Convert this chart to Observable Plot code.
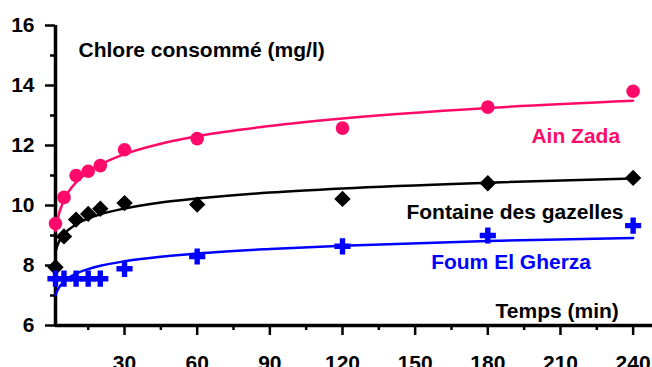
<!DOCTYPE html>
<html><head><meta charset="utf-8">
<script src="https://cdn.jsdelivr.net/npm/d3@7"></script>
<script src="https://cdn.jsdelivr.net/npm/@observablehq/plot@0.6"></script>
<style>
body{margin:0;background:#fff}
#chart svg{font-family:"Liberation Sans",Arial,sans-serif;font-weight:bold}
</style>
</head><body><div id="chart"></div>
<script>
// Measured points (time in min, chlorine consumed in mg/l)
const time      = [1.5, 5, 10, 15, 20, 30, 60, 120, 180, 240];
const ainZada   = [9.40, 10.27, 11.00, 11.14, 11.33, 11.86, 12.23, 12.58, 13.28, 13.81];
const fontaine  = [7.94, 8.97, 9.53, 9.72, 9.89, 10.08, 10.03, 10.22, 10.74, 10.92];
const foum      = [7.56, 7.56, 7.56, 7.56, 7.56, 7.89, 8.30, 8.64, 9.00, 9.33];

// Trend curves
const fitTime     = [1.5, 2, 3, 4, 5, 7, 10, 15, 20, 30, 45, 60, 90, 120, 180, 240];
const fitAinZada  = [9.14, 9.39, 9.74, 9.98, 10.18, 10.47, 10.77, 11.12, 11.36, 11.71, 12.06, 12.31, 12.65, 12.90, 13.25, 13.49];
const fitFontaine = [8.46, 8.60, 8.80, 8.93, 9.04, 9.20, 9.37, 9.57, 9.71, 9.90, 10.10, 10.23, 10.43, 10.57, 10.76, 10.90];
const fitFoum     = [7.01, 7.12, 7.27, 7.38, 7.46, 7.59, 7.73, 7.88, 7.99, 8.14, 8.29, 8.40, 8.55, 8.66, 8.82, 8.92];

const seriesNames = ["Ain Zada", "Fontaine des gazelles", "Foum El Gherza"];
const xTicks = [30, 60, 90, 120, 150, 180, 210, 240];
const xMinor = [15, 45, 75, 105, 135, 165, 195, 225];
const yTicks = [6, 8, 10, 12, 14, 16];
const yMinor = [7, 9, 11, 13, 15];
const yTitle = "Chlore consommé (mg/l)";
const xTitle = "Temps (min)";

const pink = "#ff0a6a", blue = "#0000ff", black = "#000000";

const pts = (ys) => time.map((t, i) => ({t, v: ys[i]}));
const fit = (ys) => fitTime.map((t, i) => ({t, v: ys[i]}));

const chart = Plot.plot({
  width: 652, height: 367,
  marginLeft: 55, marginRight: 0, marginTop: 25, marginBottom: 42,
  style: {background: "#fff", fontSize: "21px", fontWeight: "bold", fontFamily: "Liberation Sans, Arial, sans-serif"},
  x: {domain: [1.5, 248]},
  y: {domain: [6, 16]},
  marks: [
    Plot.axisX(xMinor, {tickSize: 5, strokeWidth: 2.5, tickFormat: () => "", label: null}),
    Plot.axisX(xTicks, {tickSize: 10, tickPadding: 20, strokeWidth: 2.5, fontSize: 21, label: null}),
    Plot.axisY(yMinor, {tickSize: 5, strokeWidth: 2.5, tickFormat: () => "", label: null}),
    Plot.axisY(yTicks, {tickSize: 10, tickPadding: 11, strokeWidth: 2.5, fontSize: 21, label: null}),
    Plot.ruleY([6], {strokeWidth: 3.5}),
    Plot.ruleX([1.5], {strokeWidth: 3.5}),
    Plot.line(fit(fitAinZada), {x: "t", y: "v", stroke: pink, strokeWidth: 2.5, curve: "monotone-x"}),
    Plot.line(fit(fitFontaine), {x: "t", y: "v", stroke: black, strokeWidth: 2.5, curve: "monotone-x"}),
    Plot.line(fit(fitFoum), {x: "t", y: "v", stroke: blue, strokeWidth: 2.5, curve: "monotone-x"}),
    Plot.dot(pts(ainZada), {x: "t", y: "v", symbol: "circle", r: 6.8, fill: pink}),
    Plot.dot(pts(fontaine), {x: "t", y: "v", symbol: "diamond2", r: 7.4, fill: black}),
    Plot.dot(pts(foum), {x: "t", y: "v", symbol: "cross", r: 6.8, fill: blue}),
    Plot.text([yTitle], {x: 11, y: 15.17, text: d => d, textAnchor: "start", fontSize: 21, fontWeight: "bold", fill: black}),
    Plot.text([seriesNames[0]], {x: 198, y: 12.31, text: d => d, textAnchor: "start", fontSize: 21, fontWeight: "bold", fill: pink}),
    Plot.text([seriesNames[1]], {x: 146.4, y: 9.79, text: d => d, textAnchor: "start", fontSize: 21, fontWeight: "bold", fill: black}),
    Plot.text([seriesNames[2]], {x: 156.6, y: 8.11, text: d => d, textAnchor: "start", fontSize: 21, fontWeight: "bold", fill: blue}),
    Plot.text([xTitle], {x: 183.2, y: 6.46, text: d => d, textAnchor: "start", fontSize: 21, fontWeight: "bold", fill: black})
  ]
});
document.getElementById("chart").append(chart);
</script>
</body></html>
